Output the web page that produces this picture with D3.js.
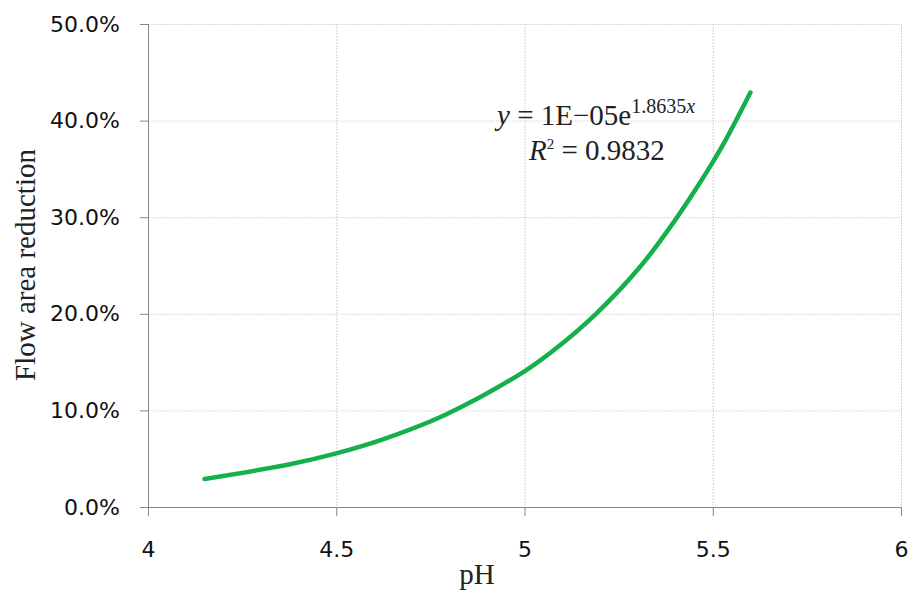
<!DOCTYPE html>
<html lang="en">
<head>
<meta charset="utf-8">
<title>Flow area reduction vs pH</title>
<script src="https://cdn.jsdelivr.net/npm/d3@7"></script>
<style>
  body { margin: 0; background: #fff; }
  .tick text { font-family: "DejaVu Sans", Verdana, sans-serif; font-size: 22px; fill: #111; }
  .axis path, .axis line { stroke: #878787; }
  .grid-h line { stroke: #dcdcdc; stroke-dasharray: 2,1; }
  .grid-v line { stroke: #c6d7ea; stroke-dasharray: 2,1; }
  .title { font-family: "Liberation Serif", "Times New Roman", serif; font-size: 29px; fill: #222; }
  .eq { font-family: "Liberation Serif", "Times New Roman", serif; font-size: 29px; fill: #222; }
</style>
</head>
<body>
<svg width="912" height="594"></svg>
<script>
// values
var ph = [4.15, 4.38, 4.50, 4.62, 4.79, 5.00, 5.08, 5.19, 5.31, 5.40, 5.46, 5.50, 5.54, 5.60];
var reduction = [0.029, 0.0445, 0.0555, 0.0695, 0.0955, 0.1405, 0.163, 0.200, 0.250, 0.297, 0.332, 0.357, 0.384, 0.429];
var xTicks = [4, 4.5, 5, 5.5, 6];
var yTicks = [0, 0.1, 0.2, 0.3, 0.4, 0.5];

var svg = d3.select("svg"),
    margin = {top: 24, right: 11, bottom: 87, left: 148},
    width = +svg.attr("width") - margin.left - margin.right,
    height = +svg.attr("height") - margin.top - margin.bottom;

var x = d3.scaleLinear().domain([4, 6]).range([0, width]),
    y = d3.scaleLinear().domain([0, 0.5]).range([height, 0]);

var g = svg.append("g")
    .attr("transform", "translate(" + margin.left + "," + margin.top + ")");

// gridlines
g.append("g").attr("class", "grid-h")
  .selectAll("line").data(yTicks.slice(1)).enter().append("line")
    .attr("x1", 0).attr("x2", width)
    .attr("y1", function(d) { return y(d) + 0.5; })
    .attr("y2", function(d) { return y(d) + 0.5; });
g.append("g").attr("class", "grid-v")
  .selectAll("line").data(xTicks.slice(1)).enter().append("line")
    .attr("y1", 0).attr("y2", height)
    .attr("x1", function(d) { return x(d) + 0.5; })
    .attr("x2", function(d) { return x(d) + 0.5; });

// axes
g.append("g")
  .attr("class", "axis axis--x")
  .attr("transform", "translate(0," + height + ")")
  .call(d3.axisBottom(x).tickValues(xTicks).tickSize(9).tickPadding(25)
        .tickFormat(function(d) { return d3.format("")(d); }))
  .call(function(a) { a.select(".domain").attr("d", "M0,0.5H" + width); });

g.append("g")
  .attr("class", "axis axis--y")
  .call(d3.axisLeft(y).tickValues(yTicks).tickSize(8).tickPadding(20)
        .tickFormat(d3.format(".1%")))
  .call(function(a) { a.select(".domain").attr("d", "M0.5,0V" + height); });

// curve
var line = d3.line()
    .x(function(d, i) { return x(ph[i]); })
    .y(function(d) { return y(d); })
    .curve(d3.curveCatmullRom);

g.append("path")
  .datum(reduction)
  .attr("fill", "none")
  .attr("stroke", "#14b04c")
  .attr("stroke-width", 4.5)
  .attr("stroke-linecap", "round")
  .attr("d", line);

// axis titles
svg.append("text")
  .attr("class", "title")
  .attr("x", 477).attr("y", 584)
  .attr("text-anchor", "middle")
  .text("pH");

svg.append("text")
  .attr("class", "title")
  .attr("transform", "translate(35,265) rotate(-90)")
  .attr("text-anchor", "middle")
  .text("Flow area reduction");

// trendline label
var eq1 = svg.append("text").attr("class", "eq").attr("x", 497).attr("y", 125);
eq1.append("tspan").style("font-style", "italic").text("y");
eq1.append("tspan").text(" = 1E\u221205e");
eq1.append("tspan").attr("dy", -12).style("font-size", "20px").text("1.8635");
eq1.append("tspan").style("font-size", "20px").style("font-style", "italic").text("x");

var eq2 = svg.append("text").attr("class", "eq").attr("x", 529).attr("y", 160);
eq2.append("tspan").style("font-style", "italic").text("R");
eq2.append("tspan").attr("dy", -11).style("font-size", "15px").text("2");
eq2.append("tspan").attr("dy", 11).text(" = 0.9832");
</script>
</body>
</html>
